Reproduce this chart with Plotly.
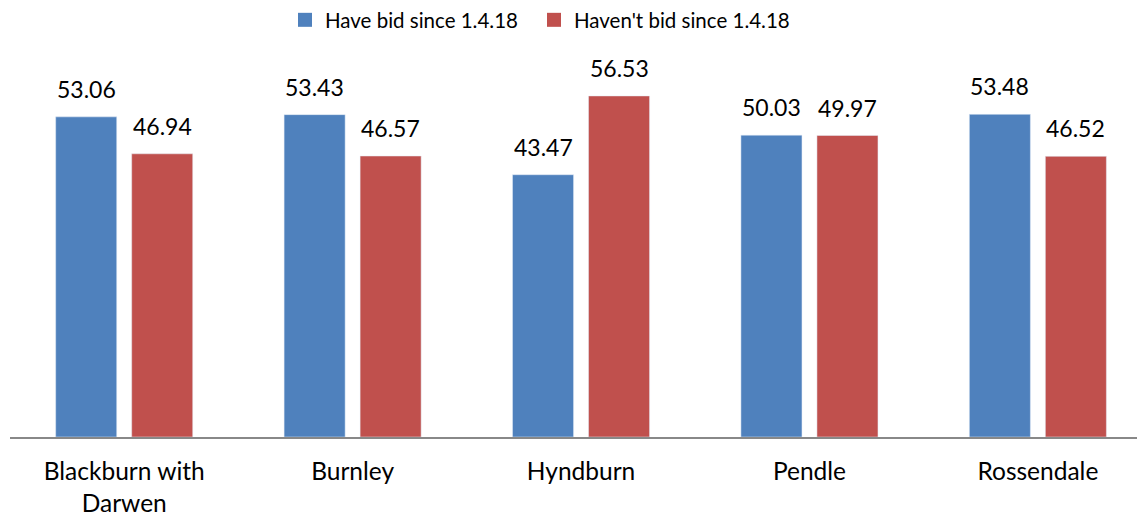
import plotly.graph_objects as go

categories = ["Blackburn with<br>Darwen", "Burnley", "Hyndburn", "Pendle", "Rossendale"]
have_bid = [53.06, 53.43, 43.47, 50.03, 53.48]
havent_bid = [46.94, 46.57, 56.53, 49.97, 46.52]
series_names = ["Have bid since 1.4.18", "Haven't bid since 1.4.18"]
colors = ["#4F81BD", "#C0504D"]

FONT = "Lato, 'Open Sans', sans-serif"

fig = go.Figure()
legend_ids = ["legend", "legend2"]
for name, vals, col, lg in zip(series_names, [have_bid, havent_bid], colors, legend_ids):
    fig.add_trace(go.Bar(x=categories, y=vals, name=name, marker=dict(color=col),
                         showlegend=False))
    # legend-only entry with a larger square symbol
    fig.add_trace(go.Scatter(x=[None], y=[None], mode="markers", name=name,
                             marker=dict(symbol="square", size=14, color=col),
                             showlegend=True, legend=lg))

# value labels above bars
for vals, shift in [(have_bid, -38), (havent_bid, 38)]:
    for c, v in zip(categories, vals):
        fig.add_annotation(x=c, y=v, text=f"{v:.2f}", showarrow=False,
                           xshift=shift, yshift=28, yanchor="middle",
                           font=dict(size=23, family=FONT, color="#000000"))

leg_common = dict(orientation="h", xanchor="left", y=1 + 55 / 362, yanchor="middle",
                  font=dict(size=20.5, family=FONT), itemwidth=30, bgcolor="rgba(0,0,0,0)")
fig.update_layout(
    width=1137, height=517,
    margin=dict(l=10, r=0, t=75, b=80, autoexpand=False),
    paper_bgcolor="white", plot_bgcolor="white",
    barmode="group", bargap=0.3345, bargroupgap=0.197,
    font=dict(family=FONT, size=20, color="#000000"),
    legend=dict(x=(298 - 13 - 10) / 1127, **leg_common),
    legend2=dict(x=(547 - 13 - 10) / 1127, **leg_common),
    showlegend=True,
)
fig.update_xaxes(range=[-0.5, 4.434], showline=True, linecolor="#888888", linewidth=2,
                 ticks="", showgrid=False, tickfont=dict(size=24.5, family=FONT),
                 ticklabelstandoff=12, automargin=False)
fig.update_yaxes(range=[0, 60], visible=False, showgrid=False, automargin=False)

fig.write_html("out.html", post_script="document.body.style.margin='0';",
               config={"displayModeBar": False})
